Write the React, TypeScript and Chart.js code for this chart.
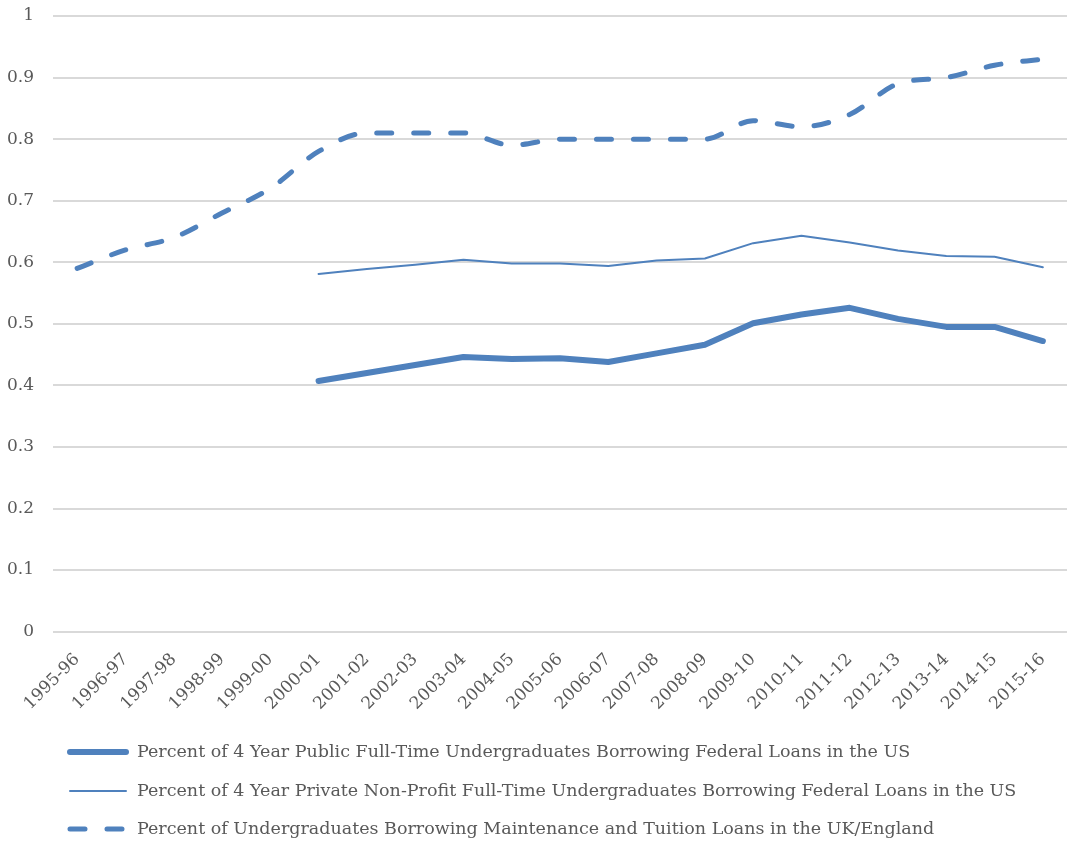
import React, { useEffect, useRef } from "react";
import { Chart, registerables } from "chart.js";

Chart.register(...registerables);

const categories = [
  "1995-96", "1996-97", "1997-98", "1998-99", "1999-00", "2000-01", "2001-02",
  "2002-03", "2003-04", "2004-05", "2005-06", "2006-07", "2007-08", "2008-09",
  "2009-10", "2010-11", "2011-12", "2012-13", "2013-14", "2014-15", "2015-16",
];

const publicUS = [
  null, null, null, null, null, 0.407, 0.420, 0.433, 0.446, 0.443, 0.444,
  0.438, 0.452, 0.466, 0.501, 0.515, 0.526, 0.508, 0.495, 0.495, 0.472,
];

const privateUS = [
  null, null, null, null, null, 0.581, 0.589, 0.596, 0.604, 0.598, 0.598,
  0.594, 0.603, 0.606, 0.631, 0.643, 0.632, 0.619, 0.610, 0.609, 0.592,
];

const ukEngland = [
  0.59, 0.62, 0.64, 0.68, 0.72, 0.78, 0.81, 0.81, 0.81, 0.79, 0.80,
  0.80, 0.80, 0.80, 0.83, 0.82, 0.84, 0.89, 0.90, 0.92, 0.93,
];

const seriesLabels = [
  "Percent of 4 Year Public Full-Time Undergraduates Borrowing Federal Loans in the US",
  "Percent of 4 Year Private Non-Profit Full-Time Undergraduates Borrowing Federal Loans in the US",
  "Percent of Undergraduates Borrowing Maintenance and Tuition Loans in the UK/England",
];

const BLUE = "#4F81BD";
const TEXT = "#595959";
const FONT = "'DejaVu Serif', serif";

const legendPlugin = {
  id: "customLegend",
  afterDraw(chart: any) {
    const ctx = chart.ctx;
    ctx.save();
    ctx.font = `17.5px ${FONT}`;
    ctx.textBaseline = "middle";
    ctx.textAlign = "left";
    const rowsY = [752, 791, 829];
    chart.data.datasets.forEach((ds: any, i: number) => {
      const y = rowsY[i];
      ctx.strokeStyle = ds.borderColor;
      ctx.lineWidth = ds.borderWidth;
      ctx.lineCap = ds.borderCapStyle || "butt";
      ctx.setLineDash(ds.borderDash || []);
      ctx.beginPath();
      ctx.moveTo(70, y);
      ctx.lineTo(126, y);
      ctx.stroke();
      ctx.setLineDash([]);
      ctx.fillStyle = TEXT;
      ctx.fillText(ds.label, 137, y);
    });
    ctx.restore();
  },
};

export default function App() {
  const ref = useRef<HTMLCanvasElement | null>(null);
  useEffect(() => {
    if (!ref.current) return;
    const chart = new Chart(ref.current, {
      type: "line",
      data: {
        labels: categories,
        datasets: [
          {
            label: seriesLabels[0],
            data: publicUS,
            borderColor: BLUE,
            backgroundColor: BLUE,
            borderWidth: 6,
            borderCapStyle: "round",
            borderJoinStyle: "round",
            pointRadius: 0,
            tension: 0,
            spanGaps: false,
          },
          {
            label: seriesLabels[1],
            data: privateUS,
            borderColor: BLUE,
            backgroundColor: BLUE,
            borderWidth: 2,
            borderCapStyle: "round",
            borderJoinStyle: "round",
            pointRadius: 0,
            tension: 0,
            spanGaps: false,
          },
          {
            label: seriesLabels[2],
            data: ukEngland,
            borderColor: BLUE,
            backgroundColor: BLUE,
            borderWidth: 5,
            borderDash: [15, 22],
            borderCapStyle: "round",
            borderJoinStyle: "round",
            pointRadius: 0,
            cubicInterpolationMode: "monotone",
          },
        ],
      } as any,
      options: {
        animation: false,
        responsive: true,
        maintainAspectRatio: false,
        layout: { padding: { left: 0, right: 2, top: 0, bottom: 111 } },
        plugins: {
          legend: { display: false },
          tooltip: { enabled: false },
        },
        scales: {
          x: {
            offset: true,
            grid: { display: false, drawTicks: false },
            border: { display: false },
            afterFit: (scale: any) => {
              scale.paddingRight = 0;
              scale.paddingLeft = 0;
            },
            ticks: {
              color: TEXT,
              font: { family: FONT, size: 17 },
              maxRotation: 45,
              minRotation: 45,
              autoSkip: false,
              padding: 18,
            },
          },
          y: {
            min: 0,
            max: 1,
            grid: { color: "#D9D9D9", lineWidth: 2, drawTicks: false },
            border: { display: false },
            afterFit: (scale: any) => {
              scale.width = 53;
              scale.paddingTop = 16;
            },
            ticks: {
              stepSize: 0.1,
              color: TEXT,
              font: { family: FONT, size: 17 },
              padding: 19,
              callback: (v: any) => String(Math.round(Number(v) * 10) / 10),
            },
          },
        },
      },
      plugins: [legendPlugin],
    });
    return () => chart.destroy();
  }, []);
  return (
    <div style={{ position: "absolute", left: 0, top: 0, width: 1069, height: 843 }}>
      <canvas ref={ref} />
    </div>
  );
}
